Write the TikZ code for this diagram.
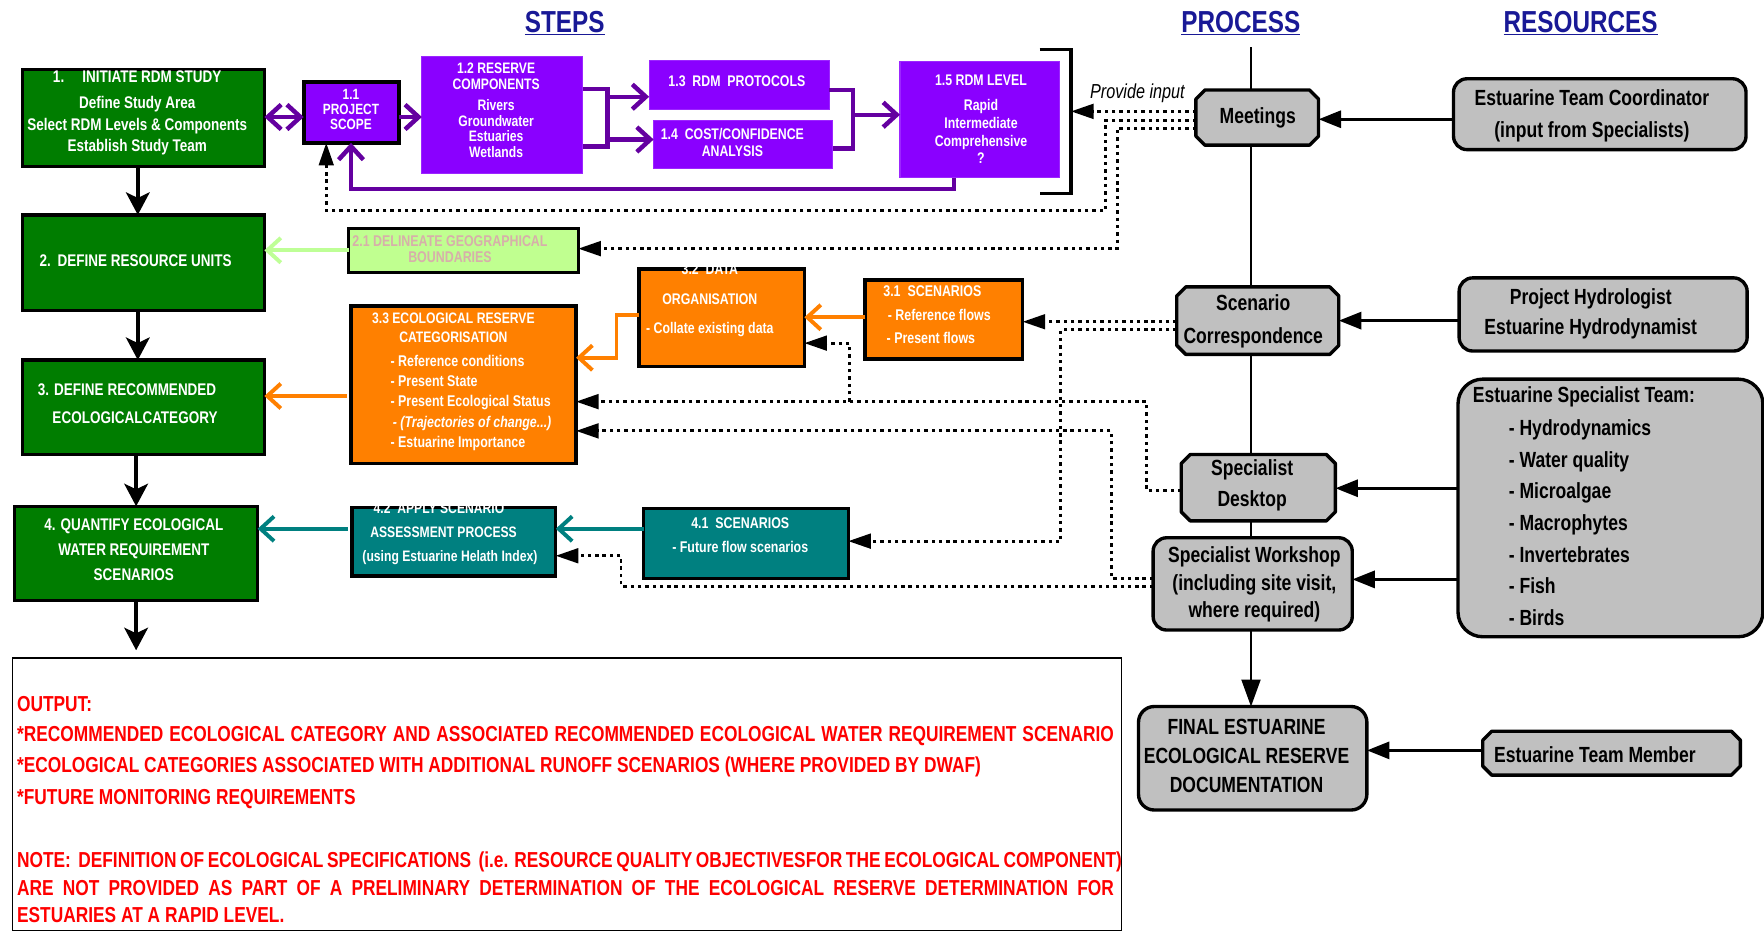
\documentclass[tikz,border=0pt]{standalone}
\usepackage{fontspec}
\setmainfont{Liberation Sans}[FakeStretch=0.8]
\usetikzlibrary{arrows.meta}
\newcommand{\myfs}[2]{\fontsize{#1}{#2}\selectfont}
\newcommand{\chamf}[1]{\draw[fill=gry, line width=3pt, line join=round] ([xshift=8pt]#1.north west) -- ([xshift=-8pt]#1.north east) -- ([yshift=-8pt]#1.north east) -- ([yshift=8pt]#1.south east) -- ([xshift=-8pt]#1.south east) -- ([xshift=8pt]#1.south west) -- ([yshift=8pt]#1.south west) -- ([yshift=-8pt]#1.north west) -- cycle;}
\definecolor{grn}{RGB}{0,125,0}
\definecolor{pur}{RGB}{138,0,255}
\definecolor{parw}{RGB}{100,0,160}
\definecolor{org}{RGB}{255,128,0}
\definecolor{tel}{RGB}{0,128,128}
\definecolor{lgr}{RGB}{192,255,144}
\definecolor{lgra}{RGB}{190,255,150}
\definecolor{pnk}{RGB}{215,175,170}
\definecolor{gry}{RGB}{192,192,192}
\definecolor{hdr}{RGB}{25,25,150}
\definecolor{rd}{RGB}{255,0,0}
\begin{document}
\begin{tikzpicture}[x=1pt,y=-1pt,
  bx/.style={anchor=north west, inner sep=0pt, outer sep=0pt},
  gbox/.style={bx, fill=grn, draw=black, line width=3pt},
  pbox/.style={bx, fill=pur, draw=pur!85!white, line width=1pt},
  obox/.style={bx, fill=org, draw=black, line width=3pt},
  tbox/.style={bx, fill=tel, draw=black, line width=3pt},
  grbox/.style={bx, fill=gry, draw=black, line width=3pt, rounded corners=12pt},
  wt/.style={inner sep=0pt, align=center, text=white},
  bt/.style={inner sep=0pt, align=center, text=black, font=\bfseries\myfs{19.5}{26}},
  rt/.style={inner sep=0pt, anchor=base west, text=rd, font=\bfseries\myfs{19.25}{23}},
  hd/.style={inner sep=0pt, anchor=base, text=hdr, font=\bfseries\myfs{27}{30}},
  karr/.style={line width=3.5pt, -{Stealth[length=20pt,width=21pt,inset=5pt]}},
  rarr/.style={line width=3pt, -{Triangle[length=20pt,width=15pt]}},
  dline/.style={line width=2.5pt, dash pattern=on 3pt off 3.5pt},
  darr/.style={dline, -{Triangle[length=20pt,width=13pt]}},
  barb/.tip={Straight Barb[length=12pt,width=22pt]},
  parr/.style={draw=parw, line width=4pt, -barb},
  pline/.style={draw=parw, line width=4pt},
  oarr/.style={draw=org, line width=3.5pt, -barb},
  tarr/.style={draw=tel, line width=3.5pt, -barb},
  garr/.style={draw=lgra, line width=3.5pt, -barb}
]
\useasboundingbox (0,0) rectangle (1568,828);

% headers
\node[hd] (hsteps) at (502,29) {\underline{STEPS}};
\node[hd] (hproc) at (1103,29) {\underline{PROCESS}};
\node[hd] (hres) at (1405,29) {\underline{RESOURCES}};

% process line
\coordinate (ptop) at (1112,42);

% green boxes
\node[gbox, minimum width=215pt, minimum height=86pt] (b1) at (20,62) {};
\node[wt, font=\bfseries\myfs{15}{19}] (t1) at (122,100.5) {1.\hspace{16pt}INITIATE RDM STUDY\\[4pt]Define Study Area\\Select RDM Levels \& Components\\Establish Study Team};
\node[gbox, minimum width=215pt, minimum height=85pt] (b2) at (20,191) {};
\node[wt, anchor=west, font=\bfseries\myfs{15}{19}] (t2) at (35,232) {2.\hspace{6pt}DEFINE RESOURCE UNITS};
\node[gbox, minimum width=215pt, minimum height=84pt] (b3) at (20,320) {};
\node[wt, font=\bfseries\myfs{15}{25}] (t3) at (113,358.5) {3. DEFINE RECOMMENDED\\\hspace{14pt}ECOLOGICALCATEGORY};
\node[gbox, minimum width=216pt, minimum height=84pt] (b4) at (13,450) {};
\node[wt, font=\bfseries\myfs{15}{22.5}] (t4) at (119,488.5) {4. QUANTIFY ECOLOGICAL\\WATER REQUIREMENT\\SCENARIOS};

% purple boxes
\node[bx, fill=pur, draw=black, line width=3.5pt, minimum width=85pt, minimum height=54pt] (b11) at (270,73) {};
\node[wt, font=\bfseries\myfs{13.2}{13.5}] (t11) at (312,97.5) {1.1\\PROJECT\\SCOPE};
\node[pbox, minimum width=143pt, minimum height=104pt] (b12) at (375,50) {};
\node[wt, font=\bfseries\myfs{13.5}{13.9}] (t12) at (441,98) {1.2 RESERVE\\COMPONENTS\\[5pt]Rivers\\Groundwater\\Estuaries\\Wetlands};
\node[pbox, minimum width=160pt, minimum height=43pt] (b13) at (577,54) {};
\node[wt, font=\bfseries\myfs{13.7}{15}] (t13) at (655,72) {1.3~~RDM~~PROTOCOLS};
\node[pbox, minimum width=159pt, minimum height=43pt] (b14) at (581,107) {};
\node[wt, font=\bfseries\myfs{13.7}{15}] (t14) at (651,126.5) {1.4~~COST/CONFIDENCE\\ANALYSIS};
\node[pbox, minimum width=142pt, minimum height=103pt] (b15) at (800,55) {};
\node[wt, font=\bfseries\myfs{13.7}{15.7}] (t15) at (872,106) {1.5 RDM LEVEL\\[7pt]Rapid\\Intermediate\\Comprehensive\\?};

% bracket
\draw[line width=3pt] (924,44) -- (952,44) -- (952,172) -- (924,172);
\coordinate (brk) at (952,99);
\node[inner sep=0pt, font=\itshape\myfs{18}{20}] (pin) at (1011,83) {Provide input};

% 2.1
\node[bx, fill=lgr, draw=black, line width=2.5pt, minimum width=204pt, minimum height=39pt] (b21) at (310,203) {};
\node[wt, text=pnk, font=\bfseries\myfs{13.8}{15}] (t21) at (400,221.5) {2.1 DELINEATE GEOGRAPHICAL\\BOUNDARIES};

% orange boxes
\node[obox, minimum width=200pt, minimum height=140pt] (b33) at (312,272) {};
\node[wt, font=\bfseries\myfs{13.5}{17}] (t33a) at (403,291.5) {3.3 ECOLOGICAL RESERVE\\CATEGORISATION};
\node[wt, anchor=west, align=left, font=\bfseries\myfs{13.8}{18}] (t33b) at (347,358) {- Reference conditions\\- Present State\\- Present Ecological Status\\\hspace{2pt}\textit{- (Trajectories of change...)}\\- Estuarine Importance};
\node[obox, minimum width=147pt, minimum height=87pt] (b32) at (568,239) {};
\node[wt, font=\bfseries\myfs{13.7}{26}] (t32) at (631,267) {3.2~~DATA\\ORGANISATION\\- Collate existing data};
\node[obox, minimum width=140pt, minimum height=70pt] (b31) at (769,249) {};
\node[wt, anchor=west, align=left, font=\bfseries\myfs{13.8}{21}] (t31) at (785,280) {3.1~~SCENARIOS\\\hspace{4pt}- Reference flows\\\hspace{3pt}- Present flows};

% teal boxes
\node[tbox, minimum width=181pt, minimum height=61pt] (b42) at (313,451) {};
\node[wt, anchor=west, align=left, font=\bfseries\myfs{13.5}{21.5}] (t42) at (322,474.5) {\hspace{10pt}4.2~~APPLY SCENARIO\\\hspace{7pt}ASSESSMENT PROCESS\\(using Estuarine Helath Index)};
\node[tbox, minimum width=182pt, minimum height=62pt] (b41) at (572,452) {};
\node[wt, font=\bfseries\myfs{13.8}{21}] (t41) at (658,475.5) {4.1~~SCENARIOS\\- Future flow scenarios};

% process line (behind the process boxes)
\draw[line width=1.5pt] (ptop) -- (1112,600);

% gray boxes
\node[bx, minimum width=109pt, minimum height=49pt] (mt) at (1063,80) {};
\chamf{mt}
\node[bt] (tmt) at (1118,104.5) {Meetings};
\node[grbox, minimum width=260pt, minimum height=63pt] (etc) at (1292,70) {};
\node[bt, font=\bfseries\myfs{19.5}{28}] (tetc) at (1415,103) {Estuarine Team Coordinator\\(input from Specialists)};
\node[bx, minimum width=144pt, minimum height=60pt] (sc) at (1046,255) {};
\chamf{sc}
\node[bt, font=\bfseries\myfs{19.5}{29}] (tsc) at (1114,285.5) {Scenario\\Correspondence};
\node[grbox, minimum width=256pt, minimum height=65pt] (ph) at (1297,247) {};
\node[bt, font=\bfseries\myfs{19.5}{26}] (tph) at (1414,279) {Project Hydrologist\\Estuarine Hydrodynamist};
\node[bx, minimum width=137pt, minimum height=59pt] (sd) at (1050,404) {};
\chamf{sd}
\node[bt, font=\bfseries\myfs{19.5}{27}] (tsd) at (1113,431.5) {Specialist\\Desktop};
\node[grbox, rounded corners=22pt, minimum width=271pt, minimum height=229pt] (est) at (1296,337) {};
\node[bt, anchor=west] (testa) at (1309,353) {Estuarine Specialist Team:};
\node[bt, anchor=west, align=left, font=\bfseries\myfs{19.5}{28.17}] (testb) at (1341,464.5) {- Hydrodynamics\\- Water quality\\- Microalgae\\- Macrophytes\\- Invertebrates\\- Fish\\- Birds};
\node[grbox, minimum width=177pt, minimum height=82pt] (sw) at (1025,478) {};
\node[bt, font=\bfseries\myfs{19.5}{24.5}] (tsw) at (1115,519.5) {Specialist Workshop\\(including site visit,\\where required)};
\node[grbox, rounded corners=14pt, minimum width=203pt, minimum height=92pt] (fin) at (1012,628) {};
\node[bt, font=\bfseries\myfs{19.5}{26}] (tfin) at (1108,672) {FINAL ESTUARINE\\ECOLOGICAL RESERVE\\DOCUMENTATION};
\node[bx, minimum width=229pt, minimum height=39pt] (etm) at (1318,650) {};
\chamf{etm}
\node[bt, anchor=west] (tetm) at (1328,671) {Estuarine Team Member};

% process arrow into final
\draw[line width=1.5pt, -{Triangle[length=24pt,width=17pt]}] (ptop |- sw.south) -- (ptop |- fin.north);

% resource arrows
\draw[rarr] (etc.west |- 0,106) -- (mt.east |- 0,106);
\draw[rarr] (ph.west |- 0,285) -- (sc.east |- 0,285);
\draw[rarr] (est.west |- 0,434) -- (sd.east |- 0,434);
\draw[rarr] (est.west |- 0,515) -- (sw.east |- 0,515);
\draw[rarr] (etm.west |- 0,667) -- (fin.east |- 0,667);

% left column arrows
\coordinate (outp) at (119,578);
\draw[karr] ([xshift=-5pt]b1.south) -- ([xshift=-5pt]b2.north);
\draw[karr] ([xshift=-5pt]b2.south) -- ([xshift=-5pt]b3.north);
\draw[karr] (b3.south -| b4.north) -- (b4.north);
\draw[karr] (b4.south) -- (b4.south |- outp);

% purple connectors
\draw[pline, barb-barb] (b1.east |- 0,104) -- (b11.west |- 0,104);
\draw[parr] (b11.east |- 0,104) -- (b12.west |- 0,104);
\coordinate (k1) at (540,79);
\coordinate (k2) at (540,130);
\draw[pline] (b12.east |- k1) -- (k1) -- (k2) -- (b12.east |- k2);
\coordinate (k3) at (540,86);
\coordinate (k4) at (540,124);
\draw[parr] (k3) -- (k3 -| b13.west);
\draw[parr] (k4) -- (k4 -| b14.west);
\coordinate (k5) at (758,80);
\coordinate (k6) at (758,132);
\draw[pline] (k5 -| b13.east) -- (k5) -- (k6) -- (k6 -| b14.east);
\coordinate (k7) at (758,102);
\draw[parr] (k7) -- (k7 -| b15.west);
\coordinate (k8) at (848,168);
\coordinate (k9) at (312,168);
\draw[parr] (k8 |- b15.south) -- (k8) -- (k9) -- (k9 |- b11.south);

% colored arrows
\draw[garr] (b21.west) -- (b21.west -| b2.east);
\coordinate (k10) at (0,352);
\draw[oarr] ([xshift=-4pt]b33.west |- k10) -- (b3.east |- k10);
\draw[oarr] (b31.west |- 0,282) -- (b32.east |- 0,282);
\coordinate (k11) at (548,280);
\coordinate (k12) at (548,318);
\draw[oarr] (b32.west |- k11) -- (k11) -- (k12) -- (k12 -| b33.east);
\coordinate (tA) at (0,470);
\draw[tarr] ([xshift=-4pt]b42.west |- tA) -- (b4.east |- tA);
\draw[tarr] (b41.west |- tA) -- (b42.east |- tA);

% dotted connectors
\draw[darr] (mt.west |- brk) -- (brk);
\coordinate (k14) at (983,107);
\coordinate (k15) at (983,187);
\coordinate (k16) at (290,187);
\draw[darr] (mt.west |- k14) -- (k14) -- (k15) -- (k16) -- (k16 |- b11.south);
\coordinate (k17) at (993,114);
\coordinate (k18) at (993,221);
\draw[darr] (mt.west |- k17) -- (k17) -- (k18) -- (k18 -| b21.east);
\coordinate (k19) at (1000,286);
\draw[darr] (sc.west |- k19) -- (k19 -| b31.east);
\coordinate (k20) at (943,293);
\coordinate (k21) at (943,481);
\draw[darr] (sc.west |- k20) -- (k20) -- (k21) -- (k21 -| b41.east);
\coordinate (k22) at (1019,436);
\coordinate (k23) at (1019,357);
\draw[darr] (sd.west |- k22) -- (k22) -- (k23) -- (k23 -| b33.east);
\coordinate (k24) at (755,357);
\coordinate (k25) at (755,305);
\draw[darr] (k24) -- (k25) -- (k25 -| b32.east);
\coordinate (k26) at (988,514);
\coordinate (k27) at (988,383);
\draw[darr] (sw.west |- k26) -- (k26) -- (k27) -- (k27 -| b33.east);
\coordinate (k28) at (552,521);
\coordinate (k29) at (552,494);
\draw[darr] (sw.west |- k28) -- (k28) -- (k29) -- (k29 -| b42.east);

% output box
\node[bx, draw=black, line width=1.2pt, minimum width=986pt, minimum height=242pt] (outb) at (11,585) {};
\node[rt] (o1) at (15,632) {OUTPUT:};
\node[rt] (o2) at (15,659) {\makebox[975pt][s]{*RECOMMENDED ECOLOGICAL CATEGORY AND ASSOCIATED RECOMMENDED ECOLOGICAL WATER REQUIREMENT SCENARIO}};
\node[rt] (o3) at (15,687) {*ECOLOGICAL CATEGORIES ASSOCIATED WITH ADDITIONAL RUNOFF SCENARIOS (WHERE PROVIDED BY DWAF)};
\node[rt] (o4) at (15,715) {*FUTURE MONITORING REQUIREMENTS};
\node[rt] (o5) at (15,771) {\makebox[982pt][s]{NOTE:~~DEFINITION OF ECOLOGICAL SPECIFICATIONS~~(i.e. RESOURCE QUALITY OBJECTIVESFOR THE ECOLOGICAL COMPONENT)}};
\node[rt] (o6) at (15,796) {\makebox[975pt][s]{ARE NOT PROVIDED AS PART OF A PRELIMINARY DETERMINATION OF THE ECOLOGICAL RESERVE DETERMINATION FOR}};
\node[rt] (o7) at (15,820) {ESTUARIES AT A RAPID LEVEL.};
\end{tikzpicture}
\end{document}
